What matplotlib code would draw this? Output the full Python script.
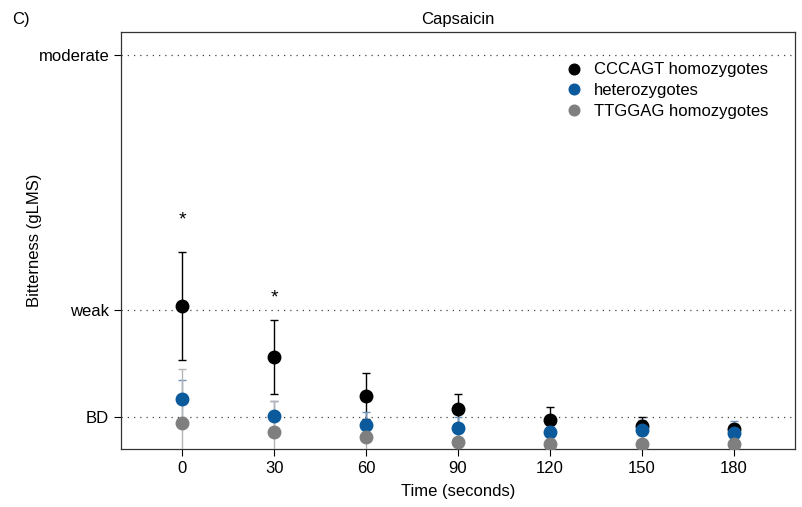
import numpy as np
import matplotlib
matplotlib.use("Agg")
from matplotlib import pyplot as plt

plt.rcParams["font.family"] = ["Liberation Sans", "DejaVu Sans"]

TIME = [0, 30, 60, 90, 120, 150, 180]

# gLMS units (BD = 1.4, weak = 6, moderate = 17)
CCCAGT_MEAN = [6.17, 3.97, 2.29, 1.73, 1.25, 0.99, 0.86]
CCCAGT_ERR = [2.33, 1.60, 1.00, 0.66, 0.55, 0.40, 0.20]
HET_MEAN = [2.16, 1.42, 1.04, 0.89, 0.75, 0.82, 0.70]
HET_ERR = [0.82, 0.65, 0.55, 0.50, 0.47, 0.45, 0.52]
TTGGAG_MEAN = [1.12, 0.73, 0.52, 0.32, 0.22, 0.22, 0.20]
TTGGAG_ERR = [2.33, 1.34, 0.66, 0.60, 0.45, 0.40, 0.40]

YTICK_VALUES = [1.4, 6, 17]
YTICK_LABELS = ["BD", "weak", "moderate"]
STAR_TIMES = [0, 30]
STAR_Y = [9.9, 6.5]

BLUE = "#0b5a9c"
GRAY = "#7f7f7f"
FS = 12

fig = plt.figure(figsize=(8.03, 5.07), dpi=100)
ax = fig.add_axes([0.1507, 0.1144, 0.8393, 0.8225])

for y in YTICK_VALUES:
    ax.axhline(y, color="#444444", linestyle=(0, (1, 4)), linewidth=0.9, zorder=1)

series = [
    (CCCAGT_MEAN, CCCAGT_ERR, "black", "black", "CCCAGT homozygotes"),
    (HET_MEAN, HET_ERR, BLUE, "#6f93b8", "heterozygotes"),
    (TTGGAG_MEAN, TTGGAG_ERR, GRAY, "#b5b5b5", "TTGGAG homozygotes"),
]
for i, (mean, err, col, ecol, lab) in enumerate(series):
    ax.errorbar(TIME, mean, yerr=err, fmt="none", ecolor=ecol,
                elinewidth=1.0, capsize=3, capthick=1.0, zorder=2 + i)
for i, (mean, err, col, ecol, lab) in enumerate(series):
    ax.plot(TIME, mean, "o", color=col, markersize=9, label=lab, zorder=6 + i)

for t, y in zip(STAR_TIMES, STAR_Y):
    ax.text(t, y, "*", ha="center", va="center", fontsize=14)

ax.set_xlim(-20, 200)
ax.set_ylim(0, 18)
ax.set_xticks(TIME)
ax.set_yticks(YTICK_VALUES)
ax.set_yticklabels(YTICK_LABELS)
ax.tick_params(axis="both", direction="out", length=5, labelsize=FS, width=0.8)
ax.set_xlabel("Time (seconds)", fontsize=FS, labelpad=6)
ax.set_ylabel("Bitterness (gLMS)", fontsize=FS)
ax.yaxis.set_label_coords(-0.117, 0.5)
ax.set_title("Capsaicin", fontsize=FS, pad=6)
for s in ax.spines.values():
    s.set_linewidth(0.9)
    s.set_color("#333333")

ax.legend(loc="upper right", bbox_to_anchor=(0.978, 0.955), frameon=False,
          fontsize=FS, handletextpad=0.2, labelspacing=0.35,
          markerscale=0.85, borderpad=0.2)

fig.text(0.015, 0.962, "C)", fontsize=FS, va="center")

fig.savefig("out.png", dpi=100)
